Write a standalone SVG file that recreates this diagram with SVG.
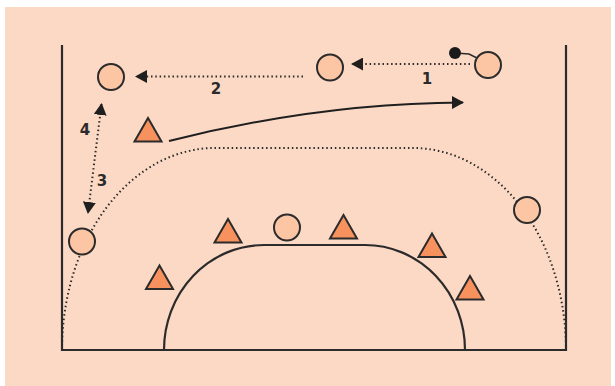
<svg xmlns="http://www.w3.org/2000/svg" width="615" height="386" viewBox="0 0 615 386">
<style>
.court{fill:none;stroke:#2b2b2b;stroke-width:2.2}
.dot{fill:none;stroke:#2b2b2b;stroke-width:2;stroke-dasharray:1.5 2.8}
.pl{fill:#fcc6a5;stroke:#2b2b2b;stroke-width:2}
.df{fill:#f7925f;stroke:#2b2b2b;stroke-width:2;stroke-linejoin:miter}
.lbl{font-family:"DejaVu Sans","Liberation Sans",sans-serif;font-weight:bold;font-size:15px;fill:#2b2b2b;text-anchor:middle}
</style>
<defs>
<marker id="ah" viewBox="0 0 12 13" refX="11" refY="6.5" markerWidth="12" markerHeight="13" markerUnits="userSpaceOnUse" orient="auto">
<path d="M0,0 L12,6.5 L0,13 Z" fill="#1f1f1f"/>
</marker>
<marker id="ahs" viewBox="0 0 12 13" refX="11" refY="6.5" markerWidth="12" markerHeight="13" markerUnits="userSpaceOnUse" orient="auto-start-reverse">
<path d="M0,0 L12,6.5 L0,13 Z" fill="#1f1f1f"/>
</marker>
</defs>
<rect x="5" y="7" width="606" height="379" fill="#fcd9c4"/>
<g id="court">
<path class="court" d="M62,45 V350 H566 V45"/>
<path class="court" d="M164,350 A100,105 0 0 1 264,245 H365 A100,105 0 0 1 465,350"/>
<path class="dot" d="M62,350 A153,202 0 0 1 215,148 H413 A153,202 0 0 1 566,350"/>
</g>
<g id="connectors">
<path class="dot" d="M470,64 H352" marker-end="url(#ah)"/>
<path class="dot" d="M303,76.5 H136" marker-end="url(#ah)"/>
<path class="dot" d="M101.5,104 L88,213" marker-start="url(#ahs)" marker-end="url(#ahs)"/>
<path fill="none" stroke="#1f1f1f" stroke-width="2" d="M169,141 Q320,103 463,102.5" marker-end="url(#ah)"/>
<path fill="none" stroke="#2b2b2b" stroke-width="1.5" d="M455,53 L469,54 L477,58"/>
</g>
<g id="labels">
<text class="lbl" x="427" y="84">1</text>
<text class="lbl" x="216" y="94">2</text>
<text class="lbl" x="102" y="186">3</text>
<text class="lbl" x="85" y="135">4</text>
</g>
<g id="ball"><circle cx="455" cy="53" r="6" fill="#1a1a1a"/></g>
<g id="o1"><circle class="pl" cx="488" cy="65" r="13"/></g>
<g id="o2"><circle class="pl" cx="330" cy="67.5" r="13"/></g>
<g id="o3"><circle class="pl" cx="111" cy="77" r="13"/></g>
<g id="o4"><circle class="pl" cx="82" cy="241.5" r="13"/></g>
<g id="o5"><circle class="pl" cx="287" cy="227.5" r="13"/></g>
<g id="o6"><circle class="pl" cx="527" cy="210" r="13"/></g>
<g id="x1"><polygon class="df" points="148,118 161.5,141.5 134.5,141.5"/></g>
<g id="x2"><polygon class="df" points="228,219 241.5,242.5 214.5,242.5"/></g>
<g id="x3"><polygon class="df" points="343.5,215 357,238.5 330,238.5"/></g>
<g id="x4"><polygon class="df" points="432,233.5 445.5,257 418.5,257"/></g>
<g id="x5"><polygon class="df" points="470,276 483.5,299.5 456.5,299.5"/></g>
<g id="x6"><polygon class="df" points="159.5,265.5 173,289 146,289"/></g>
</svg>
